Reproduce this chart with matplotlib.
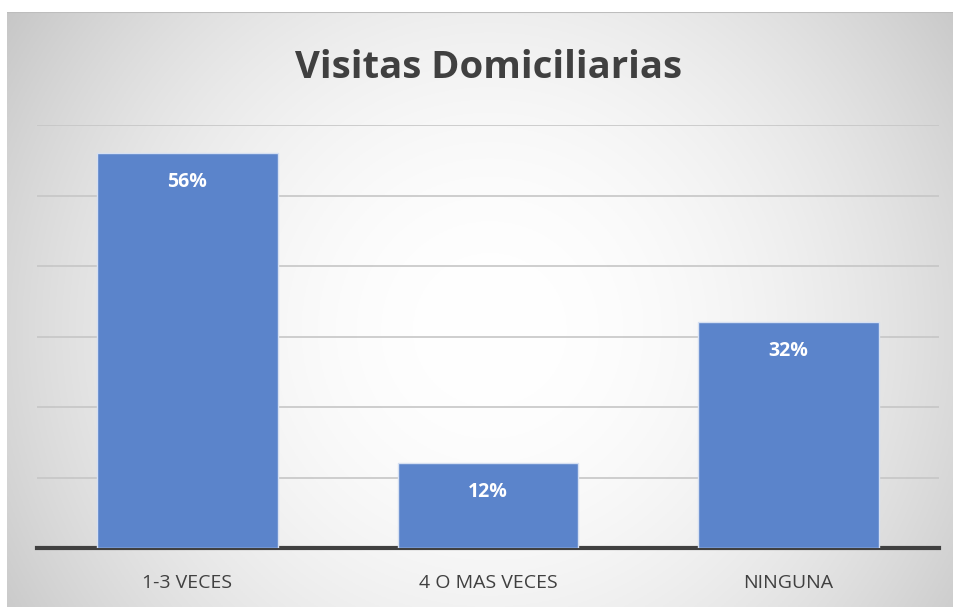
import numpy as np
import matplotlib
matplotlib.use("Agg")
import matplotlib.pyplot as plt
from matplotlib.patches import Rectangle

categories = ["1-3 VECES", "4 O MAS VECES", "NINGUNA"]
values = [56, 12, 32]
title = "Visitas Domiciliarias"

W, H = 954, 607
fig = plt.figure(figsize=(W / 100, H / 100), dpi=100)
fig.patch.set_facecolor("#CBCBCB")

# white margin strips (top and left)
fig.patches.append(Rectangle((0, 1 - 12 / H), 1, 12 / H, transform=fig.transFigure,
                             facecolor="white", edgecolor="none", zorder=0))
fig.patches.append(Rectangle((0, 0), 7 / W, 1, transform=fig.transFigure,
                             facecolor="white", edgecolor="none", zorder=0))

# background frame with radial gradient
bx0, by1 = 7, 12
bg = fig.add_axes([bx0 / W, -2 / H, (W - bx0 + 4) / W, (H - by1 + 2) / H])
bg.set_axis_off()
nx, ny = 480, 300
xs = np.linspace(bx0, W + 4, nx)
ys = np.linspace(by1, H + 2, ny)
X, Y = np.meshgrid(xs, ys)
cx, cy = 490, 330
r2 = ((X - cx) / 550) ** 2 + ((Y - cy) / 550) ** 2
val = np.clip(1.0 - 0.2 * r2, 0.77, 1.0)
img = np.dstack([val, val, val])
bg.imshow(img, extent=[0, 1, 0, 1], aspect="auto", origin="upper")
bg.set_xlim(0, 1)
bg.set_ylim(0, 1)
bg.plot([0, 1], [1, 1], color="#BDBDBD", lw=1.5, transform=bg.transAxes, clip_on=False)

# main axes
left, right = 37, 939
top, bottom = 125, 548
ax = fig.add_axes([left / W, (H - bottom) / H, (right - left) / W, (bottom - top) / H])
ax.patch.set_alpha(0)
x = np.arange(len(categories))
ax.set_xlim(-0.5, len(categories) - 0.5)
ax.set_ylim(0, 60)
ax.set_yticks(np.arange(0, 61, 10))
ax.yaxis.grid(True, color="#C6C6C6", lw=1.2)
ax.set_axisbelow(True)
for s in ["top", "right", "left"]:
    ax.spines[s].set_visible(False)
ax.spines["bottom"].set_color("#404040")
ax.spines["bottom"].set_linewidth(3)
ax.tick_params(axis="y", left=False, labelleft=False)
ax.tick_params(axis="x", bottom=False, pad=15)

bars = ax.bar(x, values, width=0.6, color="#5B84CB", edgecolor="#D6E0F2", lw=1, zorder=3)
ax.set_xticks(x)
ax.set_xticklabels(categories, fontsize=14, color="#404040", family="Open Sans")
for xi, v in zip(x, values):
    ax.annotate(f"{v}%", (xi, v), xytext=(0, -24.5), textcoords="offset points",
                ha="center", va="baseline", color="white", fontsize=14,
                fontweight="bold", family="Open Sans", zorder=4)

fig.text(489 / W, 1 - 78 / H, title, ha="center", va="baseline", fontsize=27.5,
         fontweight="bold", color="#404040", family="Open Sans")

fig.savefig("out.png", dpi=100, facecolor=fig.get_facecolor())
